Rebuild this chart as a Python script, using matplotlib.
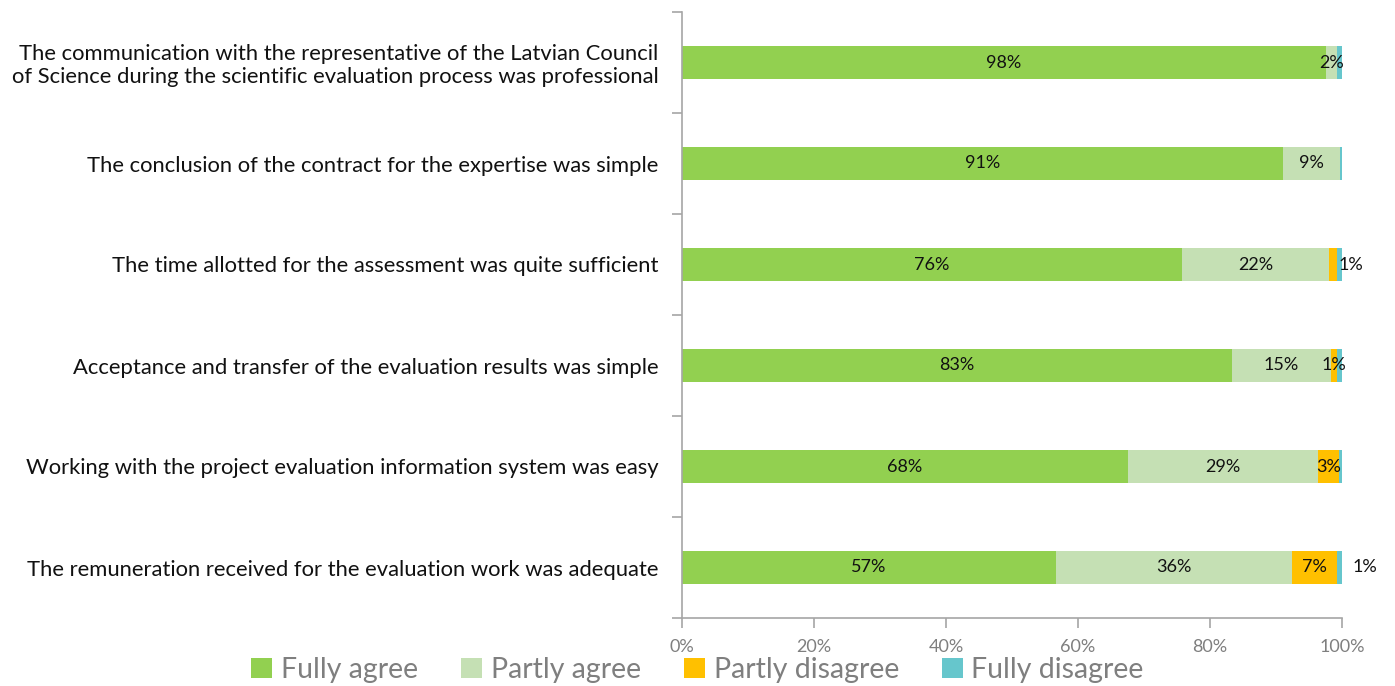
import numpy as np
import matplotlib.pyplot as plt
from matplotlib.patches import Patch

plt.rcParams['font.family'] = ['Lato', 'DejaVu Sans']

# statements, top to bottom
statements = [
    'The communication with the representative of the Latvian Council\nof Science during the scientific evaluation process was professional',
    'The conclusion of the contract for the expertise was simple',
    'The time allotted for the assessment was quite sufficient',
    'Acceptance and transfer of the evaluation results was simple',
    'Working with the project evaluation information system was easy',
    'The remuneration received for the evaluation work was adequate',
]
series_names = ['Fully agree', 'Partly agree', 'Partly disagree', 'Fully disagree']
fully_agree = [97.5, 91.0, 75.8, 83.3, 67.6, 56.7]
partly_agree = [1.7, 8.7, 22.2, 15.1, 28.7, 35.7]
partly_disagree = [0.0, 0.0, 1.2, 0.8, 3.3, 6.8]
fully_disagree = [0.8, 0.3, 0.8, 0.8, 0.4, 0.8]
colors = ['#92D050', '#C5E0B4', '#FFC000', '#66C6CC']

# which segment labels are shown: 'c' = centred in bar, 'r' = right of bar end, None = hidden
label_mode = [
    ['c'] * 6,
    ['c'] * 6,
    [None, None, None, 'c', 'c', 'c'],
    [None, None, 'r', None, None, 'r'],
]

series = [fully_agree, partly_agree, partly_disagree, fully_disagree]
y = np.arange(len(statements))[::-1]

fig = plt.figure(figsize=(13.95, 6.86), dpi=100)
ax = fig.add_axes([682 / 1395, 1 - 618 / 686, 660 / 1395, 606 / 686])

left = np.zeros(len(statements))
for vals, col, modes in zip(series, colors, label_mode):
    vals = np.array(vals)
    ax.barh(y, vals, left=left, height=0.32, color=col, edgecolor='none')
    for i, (v, m) in enumerate(zip(vals, modes)):
        if m is None or v == 0:
            continue
        txt = '%d%%' % round(v)
        if m == 'c':
            ax.text(left[i] + v / 2, y[i], txt, ha='center', va='center',
                    fontsize=13, color='#111111')
        else:
            xr = left[i] + v + (1.3 if i == 2 else 3.5)
            ax.text(xr, y[i], txt, ha='center', va='center', fontsize=13, color='#111111')
    left += vals

ax.set_xlim(0, 100)
ax.set_ylim(-0.5, len(statements) - 0.5)
ax.set_xticks(np.arange(0, 101, 20))
ax.set_xticklabels(['%d%%' % t for t in range(0, 101, 20)])
ax.set_yticks(y)
ax.set_yticklabels(statements, fontsize=15.8, color='#111111', linespacing=1.15)
ax.set_yticks(np.arange(-0.5, len(statements), 1), minor=True)
ax.tick_params(axis='y', which='major', length=0, pad=17)
ax.tick_params(axis='y', which='minor', length=7, color='#a6a6a6', width=1.2)
ax.tick_params(axis='x', length=7, color='#a6a6a6', width=1.2, labelsize=13,
               labelcolor='#7f7f7f', pad=8)
for s in ['top', 'right']:
    ax.spines[s].set_visible(False)
for s in ['left', 'bottom']:
    ax.spines[s].set_color('#a6a6a6')
    ax.spines[s].set_linewidth(1.2)

handles = [Patch(facecolor=c, edgecolor='none') for c in colors]
fig.legend(handles, series_names, loc='center', bbox_to_anchor=(0.5, 1 - 670 / 686),
           ncol=4, frameon=False, fontsize=20.5, labelcolor='#7f7f7f',
           handlelength=0.75, handleheight=0.75, handletextpad=0.3, columnspacing=1.5)

plt.savefig('out.png', dpi=100)
